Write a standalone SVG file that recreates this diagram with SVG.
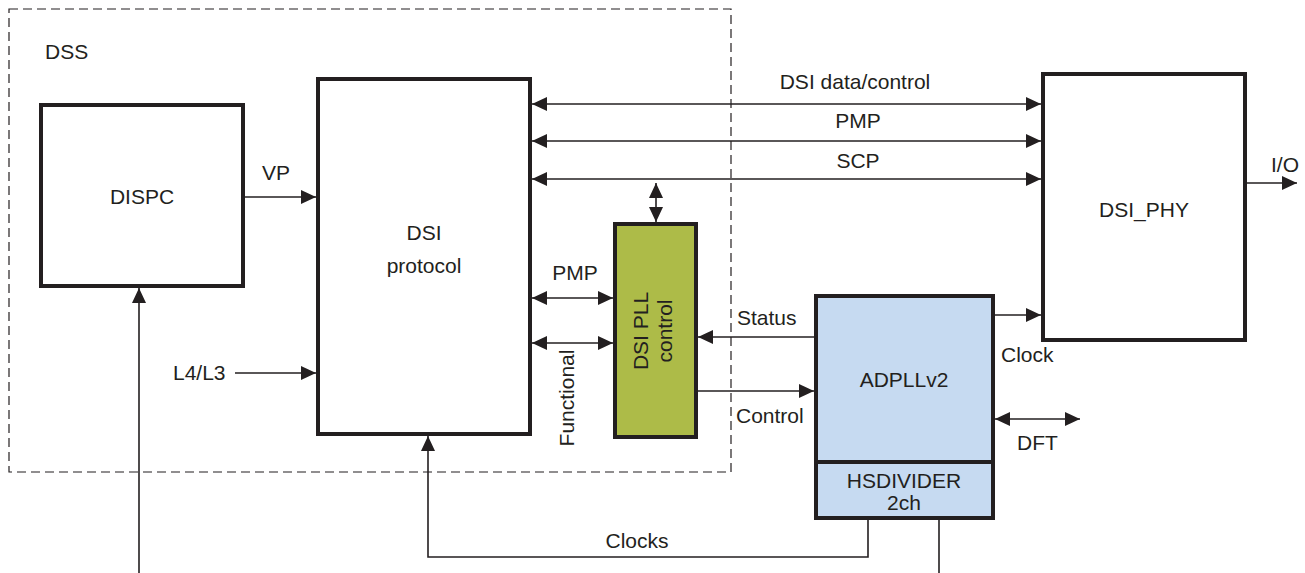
<svg xmlns="http://www.w3.org/2000/svg" width="1305" height="573" viewBox="0 0 1305 573">
<style>
.box{fill:#fff;stroke:#231f20;stroke-width:4}
.ln{fill:none;stroke:#231f20;stroke-width:1.6}
.t{font-family:"Liberation Sans",Arial,sans-serif;font-size:21px;fill:#231f20}
.c{text-anchor:middle}
</style>
<defs>
<marker id="ah" markerUnits="userSpaceOnUse" markerWidth="16" markerHeight="14" refX="15" refY="7" orient="auto-start-reverse">
<path d="M0,0 L15,7 L0,14 z" fill="#231f20"/>
</marker>
</defs>
<rect width="1305" height="573" fill="#fff"/>
<g id="dss">
<rect x="9" y="9" width="722" height="463" fill="none" stroke="#231f20" stroke-width="1.2" stroke-dasharray="9,5"/>
<text class="t" x="45" y="59">DSS</text>
</g>
<g id="dispc">
<rect class="box" x="41" y="105" width="202" height="181"/>
<text class="t c" x="142" y="204">DISPC</text>
</g>
<g id="dsi-protocol">
<rect class="box" x="318" y="79" width="212" height="355"/>
<text class="t c" x="424" y="240">DSI</text>
<text class="t c" x="424" y="273">protocol</text>
</g>
<g id="dsi-pll">
<rect x="615" y="224" width="81" height="213" fill="#adbb48" stroke="#231f20" stroke-width="4"/>
<text class="t c" transform="translate(648,331) rotate(-90)">DSI PLL</text>
<text class="t c" transform="translate(672,331) rotate(-90)">control</text>
</g>
<g id="dsi-phy">
<rect class="box" x="1043" y="74" width="202" height="266"/>
<text class="t c" x="1144" y="217">DSI_PHY</text>
</g>
<g id="adpll">
<rect x="816" y="296" width="177" height="166" fill="#c6daf1" stroke="#231f20" stroke-width="4"/>
<text class="t c" x="904" y="387">ADPLLv2</text>
</g>
<g id="hsdivider">
<rect x="816" y="462" width="177" height="56" fill="#c6daf1" stroke="#231f20" stroke-width="4"/>
<text class="t c" x="904" y="488">HSDIVIDER</text>
<text class="t c" x="904" y="510">2ch</text>
</g>
<g id="connectors">
<line class="ln" x1="243" y1="197" x2="316" y2="197" marker-end="url(#ah)"/>
<line class="ln" x1="235" y1="373" x2="316" y2="373" marker-end="url(#ah)"/>
<line class="ln" x1="139" y1="573" x2="139" y2="288" marker-end="url(#ah)"/>
<line class="ln" x1="532" y1="104" x2="1041" y2="104" marker-start="url(#ah)" marker-end="url(#ah)"/>
<line class="ln" x1="532" y1="141" x2="1041" y2="141" marker-start="url(#ah)" marker-end="url(#ah)"/>
<line class="ln" x1="532" y1="179" x2="1041" y2="179" marker-start="url(#ah)" marker-end="url(#ah)"/>
<line class="ln" x1="656" y1="183" x2="656" y2="222" marker-start="url(#ah)" marker-end="url(#ah)"/>
<line class="ln" x1="532" y1="298" x2="613" y2="298" marker-start="url(#ah)" marker-end="url(#ah)"/>
<line class="ln" x1="532" y1="343" x2="613" y2="343" marker-start="url(#ah)" marker-end="url(#ah)"/>
<line class="ln" x1="814" y1="337" x2="698" y2="337" marker-end="url(#ah)"/>
<line class="ln" x1="698" y1="391" x2="814" y2="391" marker-end="url(#ah)"/>
<line class="ln" x1="995" y1="315" x2="1041" y2="315" marker-end="url(#ah)"/>
<line class="ln" x1="995" y1="419" x2="1080" y2="419" marker-start="url(#ah)" marker-end="url(#ah)"/>
<line class="ln" x1="1247" y1="183" x2="1297" y2="183" marker-end="url(#ah)"/>
<polyline class="ln" points="868,520 868,557 428,557 428,436" marker-end="url(#ah)"/>
<line class="ln" x1="939" y1="520" x2="939" y2="573"/>
<text class="t c" x="855" y="89">DSI data/control</text>
<text class="t c" x="858" y="128">PMP</text>
<text class="t c" x="858" y="168">SCP</text>
<text class="t" x="262" y="180">VP</text>
<text class="t" x="173" y="380">L4/L3</text>
<text class="t c" x="575" y="280">PMP</text>
<text class="t c" transform="translate(574,398) rotate(-90)">Functional</text>
<text class="t" x="737" y="325">Status</text>
<text class="t" x="736" y="423">Control</text>
<text class="t" x="1001" y="362">Clock</text>
<text class="t" x="1017" y="450">DFT</text>
<text class="t" x="1271" y="172">I/O</text>
<text class="t c" x="637" y="548">Clocks</text>
</g>
</svg>
